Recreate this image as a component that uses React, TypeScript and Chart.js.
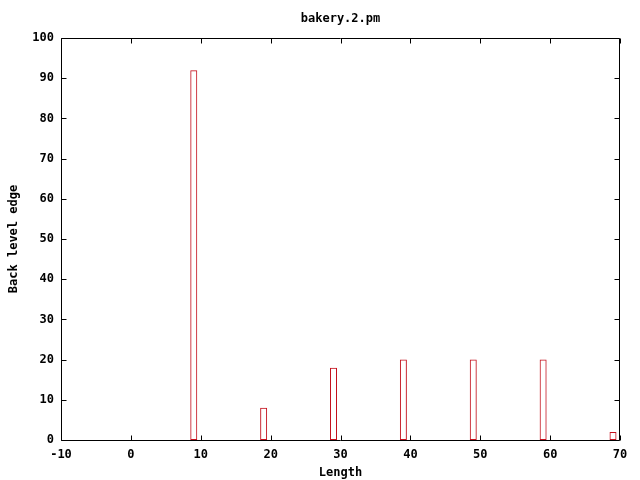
import React, { useEffect, useRef } from 'react';
import { Chart, registerables } from 'chart.js';

Chart.register(...registerables);

const chartTitle = 'bakery.2.pm';
const xTitle = 'Length';
const yTitle = 'Back level edge';
const lengths = [9, 19, 29, 39, 49, 59, 69];
const edgeValues = [92, 8, 18, 20, 20, 20, 2];
const xTickValues = [-10, 0, 10, 20, 30, 40, 50, 60, 70];
const yTickValues = [0, 10, 20, 30, 40, 50, 60, 70, 80, 90, 100];

const FONT = "'DejaVu Sans Mono', 'Liberation Mono', monospace";
const FS = 12;

const boxTicks = {
  id: 'boxTicks',
  afterDraw(chart: any) {
    const { ctx, chartArea, scales } = chart;
    const { left, right, top, bottom } = chartArea;
    const xs = scales.x;
    const ys = scales.y;
    const L = Math.round(left) + 0.5;
    const R = Math.round(right) - 0.5;
    const T = Math.round(top) + 0.5;
    const B = Math.round(bottom) + 0.5;
    const len = 5;
    ctx.save();
    ctx.strokeStyle = '#000';
    ctx.lineWidth = 1;
    ctx.beginPath();
    ctx.rect(L, T, R - L, B - T);
    for (const v of xTickValues) {
      const px = Math.round(xs.getPixelForValue(v)) + 0.5;
      ctx.moveTo(px, B);
      ctx.lineTo(px, B - len);
      ctx.moveTo(px, T);
      ctx.lineTo(px, T + len);
    }
    for (const v of yTickValues) {
      const py = Math.round(ys.getPixelForValue(v)) + 0.5;
      ctx.moveTo(L, py);
      ctx.lineTo(L + len, py);
      ctx.moveTo(R, py);
      ctx.lineTo(R - len, py);
    }
    ctx.stroke();
    ctx.restore();
  },
};

export default function App() {
  const ref = useRef<HTMLCanvasElement>(null);

  useEffect(() => {
    if (!ref.current) return;
    const chart = new Chart(ref.current, {
      type: 'bar',
      data: {
        datasets: [
          {
            data: lengths.map((x, i) => ({ x, y: edgeValues[i] })),
            backgroundColor: 'rgba(0,0,0,0)',
            borderColor: '#c4101c',
            borderWidth: 1,
            borderSkipped: false,
            categoryPercentage: 1,
            barPercentage: 0.1,
          } as any,
        ],
      },
      options: {
        animation: false,
        responsive: false,
        events: [],
        layout: { padding: { left: 0, right: 20, top: 0, bottom: 0 } },
        plugins: {
          legend: { display: false },
          tooltip: { enabled: false },
          title: {
            display: true,
            text: chartTitle,
            fullSize: false,
            color: '#000',
            font: { family: FONT, size: FS, weight: 'bold', lineHeight: 1.2 },
            padding: { top: 11.8, bottom: 11.8 },
          },
        },
        scales: {
          x: {
            type: 'linear',
            min: -10,
            max: 70,
            offset: false,
            grid: { display: false, offset: false, drawTicks: false },
            border: { display: false },
            ticks: {
              stepSize: 10,
              padding: 8,
              color: '#000',
              maxRotation: 0,
              font: { family: FONT, size: FS, weight: 'bold' },
            },
            title: {
              display: true,
              text: xTitle,
              color: '#000',
              font: { family: FONT, size: FS, weight: 'bold', lineHeight: 1.2 },
              padding: { top: 0, bottom: 0 },
            },
            afterFit(scale: any) {
              scale.height = 40;
            },
          },
          y: {
            type: 'linear',
            min: 0,
            max: 100,
            grid: { display: false, drawTicks: false },
            border: { display: false },
            ticks: {
              stepSize: 10,
              padding: 7,
              color: '#000',
              font: { family: FONT, size: FS, weight: 'bold' },
            },
            title: {
              display: true,
              text: yTitle,
              color: '#000',
              font: { family: FONT, size: FS, weight: 'bold', lineHeight: 1.2 },
              padding: { top: 7, bottom: 0 },
            },
            afterFit(scale: any) {
              scale.width = 61;
            },
          },
        },
      } as any,
      plugins: [boxTicks],
    });
    return () => chart.destroy();
  }, []);

  return (
    <div style={{ position: 'absolute', left: 0, top: 0, width: 640, height: 480, background: '#fff' }}>
      <canvas ref={ref} width={640} height={480} />
    </div>
  );
}
